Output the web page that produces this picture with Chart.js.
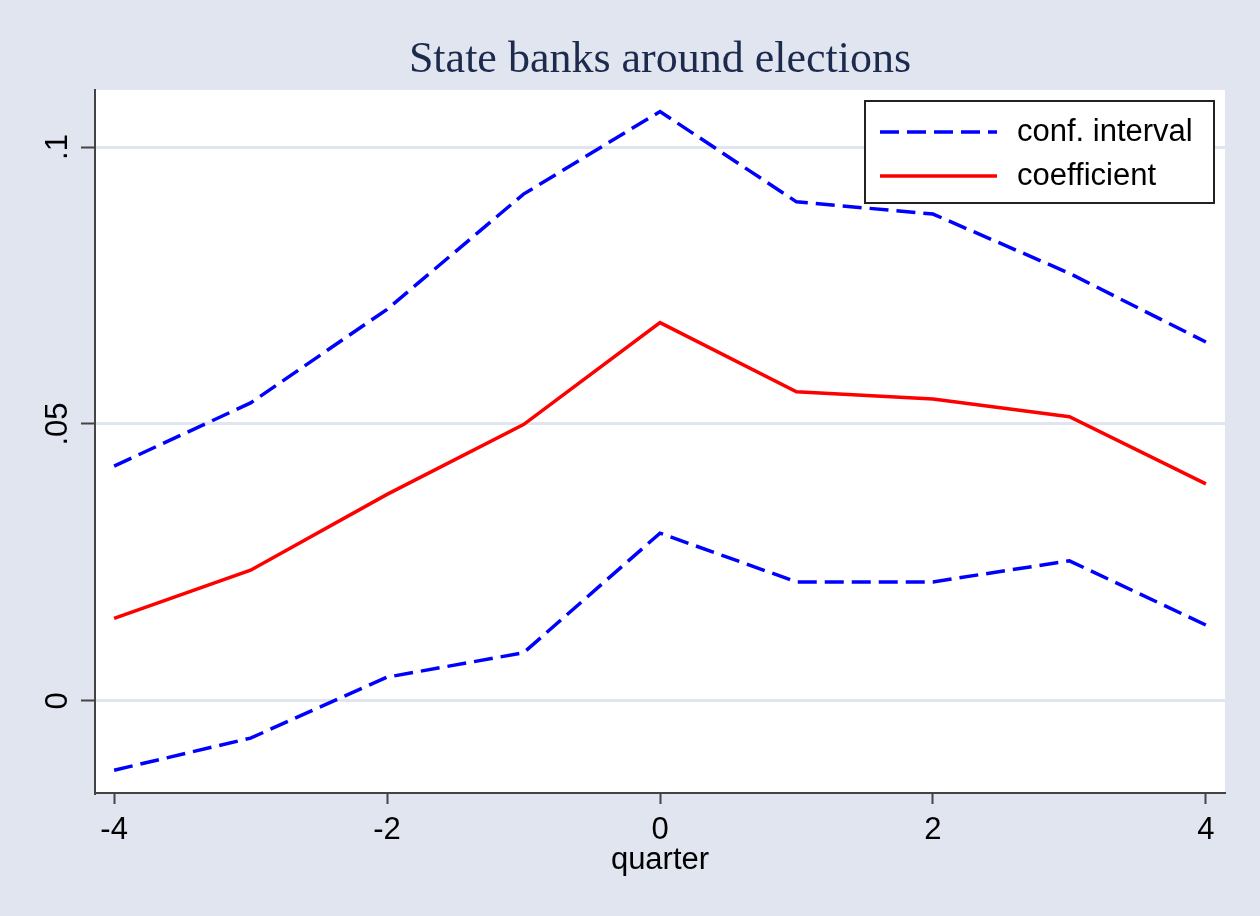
<!DOCTYPE html>
<html>
<head>
<meta charset="utf-8">
<title>State banks around elections</title>
<script src="https://cdn.jsdelivr.net/npm/chart.js@4/dist/chart.umd.min.js"></script>
<style>
  html, body { margin: 0; padding: 0; background: #e1e5ef; }
  canvas { display: block; }
</style>
</head>
<body>
<canvas id="chart" width="1260" height="916"></canvas>
<script>
// Event-study estimates by quarter relative to the election
const quarters    = [-4, -3, -2, -1, 0, 1, 2, 3, 4];
const coefficient = [0.0149, 0.0236, 0.0373, 0.0499, 0.0683, 0.0558, 0.0545, 0.0513, 0.0392];
const ciUpper     = [0.0424, 0.0538, 0.0707, 0.0915, 0.1064, 0.0901, 0.0879, 0.0772, 0.0648];
const ciLower     = [-0.0125, -0.0067, 0.0043, 0.0087, 0.0303, 0.0215, 0.0215, 0.0253, 0.0137];

const xTickValues = [-4, -2, 0, 2, 4];
const xTickLabels = ['-4', '-2', '0', '2', '4'];
const yTickValues = [0, 0.05, 0.1];
const yTickLabels = ['0', '.05', '.1'];

const titleText  = 'State banks around elections';
const xAxisTitle = 'quarter';
const ciLabel    = 'conf. interval';
const coefLabel  = 'coefficient';

const SANS  = "'Liberation Sans', Arial, sans-serif";
const SERIF = "'Liberation Serif', 'Times New Roman', serif";
const PAGE_BG = '#e1e5ef';
const AXIS = '#444444';

const toPoints = arr => quarters.map((q, i) => ({ x: q, y: arr[i] }));

// Page and plot-region backgrounds
const backdrop = {
  id: 'backdrop',
  beforeDraw(chart) {
    const { ctx, chartArea: a, width, height } = chart;
    ctx.save();
    ctx.fillStyle = PAGE_BG;
    ctx.fillRect(0, 0, width, height);
    ctx.fillStyle = '#ffffff';
    ctx.fillRect(a.left, a.top, a.right - a.left, a.bottom - a.top);
    ctx.restore();
  }
};

// Framed legend inside the top-right corner of the plot region,
// one entry per distinct dataset label
const boxedLegend = {
  id: 'boxedLegend',
  afterDraw(chart, args, o) {
    const { ctx, chartArea: a } = chart;
    const seen = new Set();
    const items = [];
    chart.data.datasets.forEach(ds => {
      if (!seen.has(ds.label)) { seen.add(ds.label); items.push(ds); }
    });
    const x0 = a.right - o.inset - o.width;
    const y0 = a.top + o.inset;
    ctx.save();
    ctx.fillStyle = '#ffffff';
    ctx.fillRect(x0, y0, o.width, o.height);
    ctx.strokeStyle = '#222222';
    ctx.lineWidth = 2;
    ctx.strokeRect(x0, y0, o.width, o.height);
    items.forEach((ds, i) => {
      const cy = y0 + o.firstRow + i * o.rowGap;
      ctx.beginPath();
      ctx.setLineDash(ds.borderDash || []);
      ctx.strokeStyle = ds.borderColor;
      ctx.lineWidth = ds.borderWidth;
      ctx.lineCap = 'butt';
      ctx.moveTo(x0 + o.sampleStart, cy);
      ctx.lineTo(x0 + o.sampleEnd, cy);
      ctx.stroke();
      ctx.setLineDash([]);
      ctx.fillStyle = '#000000';
      ctx.font = '31px ' + SANS;
      ctx.textAlign = 'left';
      ctx.textBaseline = 'middle';
      ctx.fillText(ds.label, x0 + o.textStart, cy);
    });
    ctx.restore();
  }
};

const ciStyle = { borderColor: '#0000ff', borderWidth: 3.5, borderDash: [19, 8] };

new Chart(document.getElementById('chart'), {
  type: 'line',
  data: {
    datasets: [
      { label: ciLabel, data: toPoints(ciUpper), ...ciStyle },
      { label: ciLabel, data: toPoints(ciLower), ...ciStyle },
      { label: coefLabel, data: toPoints(coefficient), borderColor: '#ff0000', borderWidth: 3.5 }
    ]
  },
  options: {
    responsive: false,
    animation: false,
    devicePixelRatio: 1,
    layout: { padding: { left: 0, right: 35, top: 0, bottom: 0 } },
    elements: {
      point: { radius: 0, hoverRadius: 0 },
      line: { tension: 0, fill: false, borderCapStyle: 'butt', borderJoinStyle: 'miter' }
    },
    plugins: {
      legend: { display: false },
      tooltip: { enabled: false },
      title: {
        display: true,
        fullSize: false,
        text: titleText,
        color: '#1c2a4e',
        font: { family: SERIF, size: 44, weight: 'normal', lineHeight: 1.2 },
        padding: { top: 34.5, bottom: 2.7 }
      },
      boxedLegend: {
        inset: 11, width: 349, height: 102,
        firstRow: 31, rowGap: 44,
        sampleStart: 15, sampleEnd: 132, textStart: 152
      }
    },
    scales: {
      x: {
        type: 'linear',
        min: -4.14,
        max: 4.14,
        afterBuildTicks: s => { s.ticks = xTickValues.map(v => ({ value: v })); },
        afterFit: s => { s.height = 123; },
        grid: { drawOnChartArea: false, drawTicks: true, tickLength: 11, tickColor: AXIS, tickWidth: 2, color: AXIS },
        border: { display: true, color: AXIS, width: 2 },
        ticks: {
          color: '#000000',
          font: { family: SANS, size: 31 },
          padding: 8,
          maxRotation: 0,
          autoSkip: false,
          callback: v => xTickLabels[xTickValues.indexOf(v)]
        },
        title: {
          display: true,
          text: xAxisTitle,
          color: '#000000',
          font: { family: SANS, size: 31, lineHeight: 1.2 },
          padding: { top: 0, bottom: 37 }
        }
      },
      y: {
        type: 'linear',
        min: -0.01661,
        max: 0.11029,
        afterBuildTicks: s => { s.ticks = yTickValues.map(v => ({ value: v })); },
        afterFit: s => { s.width = 95; },
        grid: { color: PAGE_BG, lineWidth: 3, drawTicks: true, tickLength: 14, tickColor: AXIS, tickWidth: 2 },
        border: { display: true, color: AXIS, width: 2 },
        ticks: {
          color: '#000000',
          font: { family: SANS, size: 31 },
          padding: 1,
          minRotation: 90,
          maxRotation: 90,
          crossAlign: 'center',
          autoSkip: false,
          callback: v => yTickLabels[yTickValues.indexOf(v)]
        }
      }
    }
  },
  plugins: [backdrop, boxedLegend]
});
</script>
</body>
</html>
